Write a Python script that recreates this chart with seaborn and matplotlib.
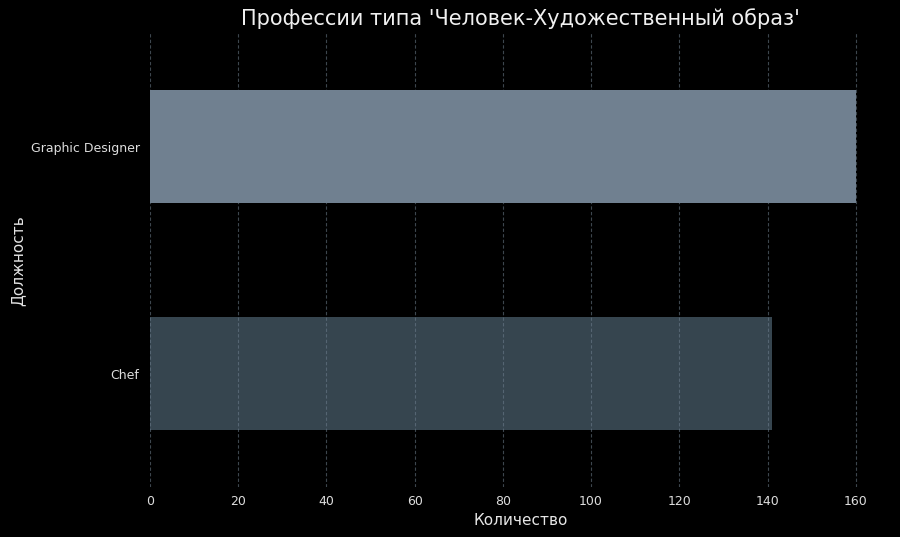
import matplotlib
matplotlib.use("Agg")
import matplotlib.pyplot as plt
import seaborn as sns
import pandas as pd

# data
professions = ["Graphic Designer", "Chef"]
counts = [160, 141]
bar_colors = ["#708090", "#36454F"]

df = pd.DataFrame({"Должность": professions, "Количество": counts})

sns.set_style("dark")
plt.rcParams['font.family'] = ['DejaVu Sans']

fig, ax = plt.subplots(figsize=(9, 5.37), dpi=100)
fig.patch.set_facecolor("black")
ax.set_facecolor("black")

sns.barplot(data=df, y="Должность", x="Количество", hue="Должность",
            palette=bar_colors, width=0.5, legend=False, ax=ax,
            saturation=1, linewidth=0)

ax.set_title("Профессии типа 'Человек-Художественный образ'", color="#f0f0f0", fontsize=15)
ax.set_xlabel("Количество", color="#e6e6e6", fontsize=11)
ax.set_ylabel("Должность", color="#e6e6e6", fontsize=11)
ax.tick_params(axis="x", colors="black", labelcolor="#dddddd", length=2, labelsize=9)
ax.tick_params(axis="y", colors="black", labelcolor="#dddddd", length=4, labelsize=9)
ax.set_axisbelow(False)
ax.xaxis.grid(True, linestyle=(0, (3, 2)), color="#708090", alpha=0.55, linewidth=0.8)
ax.yaxis.grid(False)
for s in ax.spines.values():
    s.set_visible(False)

plt.subplots_adjust(left=0.1667, right=0.99, top=0.938, bottom=0.093)
plt.savefig("out.png", facecolor="black")
